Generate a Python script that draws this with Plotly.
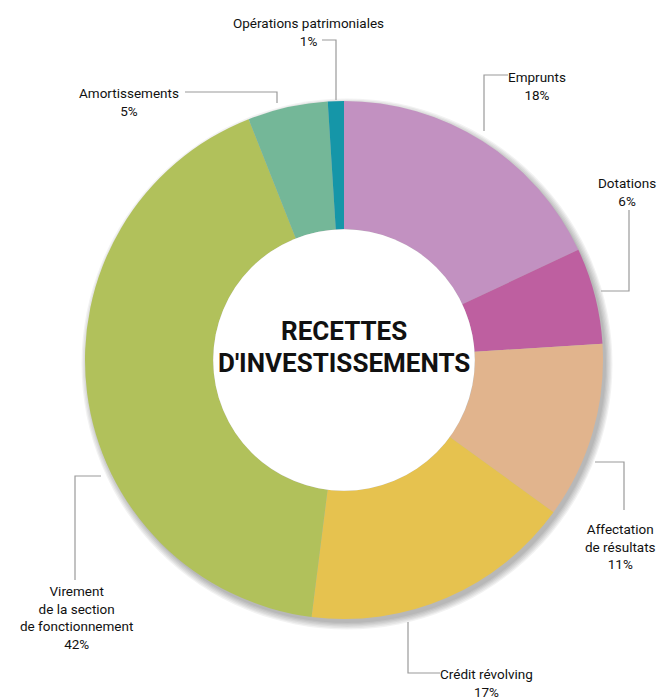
import plotly.graph_objects as go

labels = ["Emprunts", "Dotations", "Affectation de résultats", "Crédit révolving",
          "Virement de la section de fonctionnement", "Amortissements", "Opérations patrimoniales"]
values = [18, 6, 11, 17, 42, 5, 1]
label_texts = ["Emprunts<br>18%", "Dotations<br>6%", "Affectation<br>de résultats<br>11%",
               "Crédit révolving<br>17%", "Virement<br>de la section<br>de fonctionnement<br>42%",
               "Amortissements<br>5%", "Opérations patrimoniales<br>1%"]
colors = ["#C291C1", "#BE5FA0", "#E1B48D", "#E6C24F", "#B1C15B", "#74B798", "#1596A8"]
title_lines = ["RECETTES", "D'INVESTISSEMENTS"]

W, H = 658, 699
cx, cy, R = 344, 360, 259
HOLE = 0.505

# label placement (pixels: x, y of first line top) and leader lines (pixel polylines)
label_pos = [(537, 67), (627, 173), (620, 519), (487, 664), (76, 581), (129, 83), (308, 13)]
leaders = [
    [(508, 75), (484, 75), (484, 131)],
    [(629, 210), (629, 291), (601, 291)],
    [(595, 462), (624, 462), (624, 510)],
    [(408, 622), (408, 673), (440, 673)],
    [(101, 476), (75, 476), (75, 580)],
    [(185, 92), (277, 92), (277, 103)],
    [(322, 40), (336, 40), (336, 100)],
]

def px(x):
    return x / W

def py(y):
    return 1 - y / H

fig = go.Figure()

# soft drop shadow
for i in range(6):
    r = R + i * 1.3
    dx, dy = 3, 4
    fig.add_trace(go.Pie(
        values=[1], sort=False, textinfo="none", hoverinfo="skip",
        marker=dict(colors=["rgba(0,0,0,0.05)"], line=dict(width=0)),
        domain=dict(x=[px(cx + dx - r), px(cx + dx + r)], y=[py(cy + dy + r), py(cy + dy - r)]),
        showlegend=False,
    ))

fig.add_trace(go.Pie(
    labels=labels, values=values, sort=False, direction="clockwise", rotation=0,
    hole=HOLE, textinfo="none", hoverinfo="label+percent",
    marker=dict(colors=colors, line=dict(width=0)),
    domain=dict(x=[px(cx - R), px(cx + R)], y=[py(cy + R), py(cy - R)]),
    showlegend=False,
))

# white centre (covers shadow inside the hole)
hr = R * HOLE
fig.add_shape(type="circle", xref="paper", yref="paper",
              x0=px(cx - hr), x1=px(cx + hr), y0=py(cy + hr), y1=py(cy - hr),
              fillcolor="white", line=dict(width=0), layer="above")

font_family = "Roboto, sans-serif"
for (x, y), t in zip(label_pos, label_texts):
    fig.add_annotation(x=px(x), y=py(y), xref="paper", yref="paper", text=t,
                       showarrow=False, xanchor="center", yanchor="top",
                       font=dict(family=font_family, size=13.5, color="#111111"),
                       align="center")

for line in leaders:
    path = "M " + " L ".join(f"{px(x)},{py(y)}" for x, y in line)
    fig.add_shape(type="path", path=path, xref="paper", yref="paper",
                  line=dict(color="#9a9a9a", width=1.2))

for t, y in zip(title_lines, [331, 363]):
    fig.add_annotation(x=px(cx), y=py(y), xref="paper", yref="paper", text="<b>" + t + "</b>",
                       showarrow=False, xanchor="center", yanchor="middle",
                       font=dict(family=font_family, size=26, color="#111111"))

fig.update_layout(width=W, height=H, margin=dict(l=0, r=0, t=0, b=0),
                  paper_bgcolor="white", plot_bgcolor="white")
fig.write_html("out.html", config={"displayModeBar": False},
               post_script="document.body.style.margin='0';document.body.style.overflow='hidden';")
